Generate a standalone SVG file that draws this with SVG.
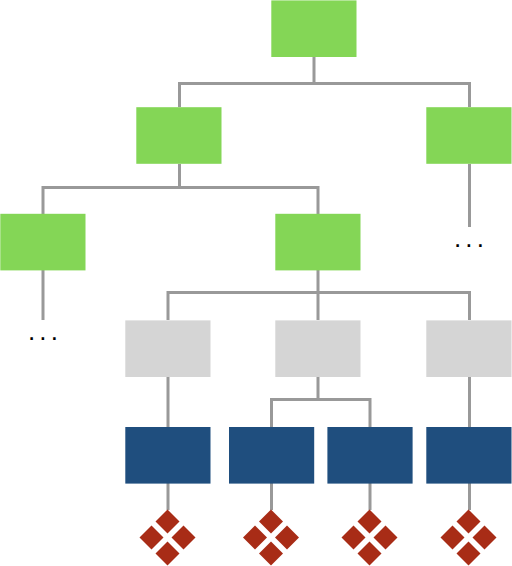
<svg xmlns="http://www.w3.org/2000/svg" width="512" height="566" viewBox="0 0 512 566">
<style>
.g{fill:#84d656}.l{fill:#d5d5d5}.b{fill:#1f4e7e}.d{fill:#a82c16}
rect{width:85.200px;height:56.600px}
.c{fill:none;stroke:#999;stroke-width:3}
.t{font-family:"Liberation Sans",Arial,sans-serif;font-size:26px;letter-spacing:4.100px;fill:#000;text-anchor:middle}
</style>
<defs><g id="dia" class="d">
<path d="M0-28.500L12-16.500L0-4.500L-12-16.500Z"/><path d="M0 3.500L12 15.500L0 27.500L-12 15.500Z"/>
<path d="M-16-12.500L-4-.5L-16 11.500L-28-.5Z"/><path d="M16-12.500L28-.5L16 11.500L4-.5Z"/>
</g></defs>
<g id="connectors" class="c">
<path d="M314 57V83.500M179.500 107V83.500H469.500V107"/>
<path d="M179.500 164V187.500M43 214V187.500H318V214"/>
<path d="M469.500 164V227M43 270V320"/>
<path d="M318 270V292.500M168 320V292.500H469.500V320M318 292.500V320"/>
<path d="M168 377V427M318 377V399.500M271.500 427V399.500H370V427M469.500 377V427"/>
<path d="M168 483V510M271.500 483V510M370 483V510M469.500 483V510"/>
</g>
<g id="n1"><rect class="g" x="271.300" y="0.400"/></g>
<g id="n2"><rect class="g" x="136.300" y="107.200"/></g>
<g id="n3"><rect class="g" x="426.300" y="107.200"/></g>
<g id="n4"><rect class="g" x="0.300" y="213.800"/></g>
<g id="n5"><rect class="g" x="275.300" y="213.800"/></g>
<g id="n6"><rect class="l" x="125.300" y="320.400"/></g>
<g id="n7"><rect class="l" x="275.300" y="320.400"/></g>
<g id="n8"><rect class="l" x="426.300" y="320.400"/></g>
<g id="n9"><rect class="b" x="125.300" y="427"/></g>
<g id="n10"><rect class="b" x="229" y="427"/></g>
<g id="n11"><rect class="b" x="327.400" y="427"/></g>
<g id="n12"><rect class="b" x="426.300" y="427"/></g>
<g id="d1"><use href="#dia" x="167.500" y="538"/></g>
<g id="d2"><use href="#dia" x="271" y="538"/></g>
<g id="d3"><use href="#dia" x="369.500" y="538"/></g>
<g id="d4"><use href="#dia" x="468.500" y="538"/></g>
<text class="t" x="45" y="340">...</text>
<text class="t" x="471" y="247">...</text>
</svg>
